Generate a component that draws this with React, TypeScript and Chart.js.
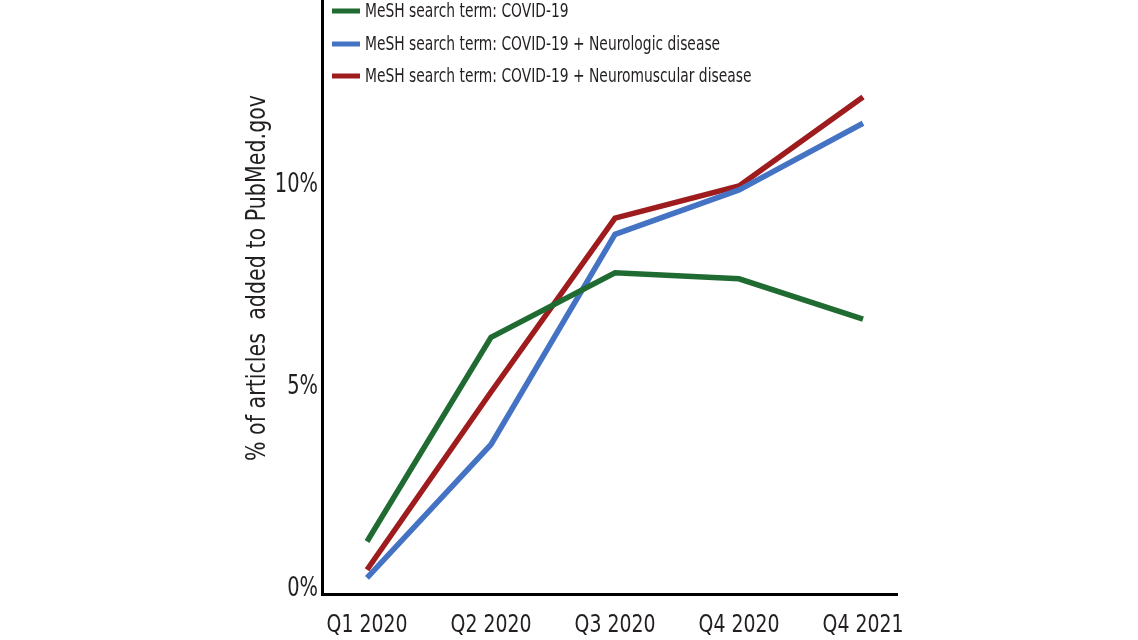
import React, { useEffect, useRef } from "react";
import { Chart, registerables } from "chart.js";

Chart.register(...registerables);

const categories = ["Q1 2020", "Q2 2020", "Q3 2020", "Q4 2020", "Q4 2021"];
const covid = [1.2, 6.25, 7.85, 7.7, 6.7];
const neurologic = [0.3, 3.6, 8.8, 9.9, 11.55];
const neuromuscular = [0.5, 4.9, 9.2, 10.0, 12.2];
const yTicks = [0, 5, 10];
const seriesLabels = [
  "MeSH search term: COVID-19",
  "MeSH search term: COVID-19 + Neurologic disease",
  "MeSH search term: COVID-19 + Neuromuscular disease",
];
const seriesColors = ["#1f6b32", "#4573c4", "#9e1c1e"];
const yTitle = "% of articles  added to PubMed.gov";

const FONT = "'DejaVu Sans Condensed', 'DejaVu Sans', sans-serif";
const TEXT = "#231f20";

function condensedText(
  ctx: CanvasRenderingContext2D,
  text: string,
  x: number,
  y: number,
  align: CanvasTextAlign,
  sx: number
) {
  ctx.save();
  ctx.translate(x, y);
  ctx.scale(sx, 1);
  ctx.textAlign = align;
  ctx.fillText(text, 0, 0);
  ctx.restore();
}

const overlayPlugin = {
  id: "overlay",
  afterDraw(chart: any) {
    const ctx: CanvasRenderingContext2D = chart.ctx;
    ctx.save();
    ctx.fillStyle = TEXT;
    ctx.textBaseline = "middle";

    // legend
    ctx.font = `20px ${FONT}`;
    const rowsY = [11, 44, 76];
    chart.data.datasets.forEach((ds: any, i: number) => {
      const y = rowsY[i];
      ctx.strokeStyle = ds.borderColor;
      ctx.lineWidth = 5;
      ctx.lineCap = "butt";
      ctx.beginPath();
      ctx.moveTo(332, y);
      ctx.lineTo(360, y);
      ctx.stroke();
      condensedText(ctx, ds.label, 365, y + 1, "left", 0.77);
    });

    // x tick labels
    const xs = chart.scales.x;
    ctx.font = `25px ${FONT}`;
    categories.forEach((c, i) => {
      condensedText(ctx, c, xs.getPixelForValue(i), 625, "center", 0.84);
    });

    // y tick labels
    const ys = chart.scales.y;
    ctx.font = `27px ${FONT}`;
    yTicks.forEach((v) => {
      condensedText(ctx, `${v}%`, 318, ys.getPixelForValue(v) - 1, "right", 0.8);
    });

    // y title
    ctx.save();
    ctx.translate(258, 278);
    ctx.rotate(-Math.PI / 2);
    ctx.font = `27px ${FONT}`;
    condensedText(ctx, yTitle, 0, 0, "center", 0.85);
    ctx.restore();

    ctx.restore();
  },
};

export default function App() {
  const canvasRef = useRef<HTMLCanvasElement | null>(null);

  useEffect(() => {
    document.body.style.margin = "0";
    const canvas = canvasRef.current;
    if (!canvas) return;
    const series = [covid, neurologic, neuromuscular];
    const chart = new Chart(canvas, {
      type: "line",
      data: {
        datasets: series.map((vals, i) => ({
          label: seriesLabels[i],
          data: vals.map((v, j) => ({ x: j, y: v })),
          borderColor: seriesColors[i],
          backgroundColor: seriesColors[i],
          borderWidth: 5.5,
          pointRadius: 0,
          tension: 0,
          borderCapStyle: "butt",
          borderJoinStyle: "miter",
        })),
      },
      options: {
        responsive: false,
        animation: false,
        layout: { padding: { left: 0, right: 241, top: 0, bottom: 0 } },
        plugins: {
          legend: { display: false },
          tooltip: { enabled: false },
        },
        scales: {
          x: {
            type: "linear",
            min: -0.363,
            max: 4.274,
            grid: { display: false, drawTicks: false },
            border: { display: true, color: "#000", width: 3 },
            ticks: { display: false },
            afterBuildTicks: (scale: any) => {
              scale.ticks = categories.map((_, i) => ({ value: i }));
            },
            afterFit: (scale: any) => {
              scale.height = 46;
              scale.paddingLeft = 0;
              scale.paddingRight = 0;
            },
          },
          y: {
            min: -0.1,
            max: 14.6,
            grid: { display: false, drawTicks: false },
            border: { display: true, color: "#000", width: 3 },
            ticks: { display: false },
            afterBuildTicks: (scale: any) => {
              scale.ticks = yTicks.map((v) => ({ value: v }));
            },
            afterFit: (scale: any) => {
              scale.width = 322;
              scale.paddingTop = 0;
              scale.paddingBottom = 0;
            },
          },
        },
      },
      plugins: [overlayPlugin],
    });
    return () => chart.destroy();
  }, []);

  return (
    <div style={{ width: 1138, height: 640, background: "#fff" }}>
      <canvas ref={canvasRef} width={1138} height={640} style={{ display: "block" }} />
    </div>
  );
}
